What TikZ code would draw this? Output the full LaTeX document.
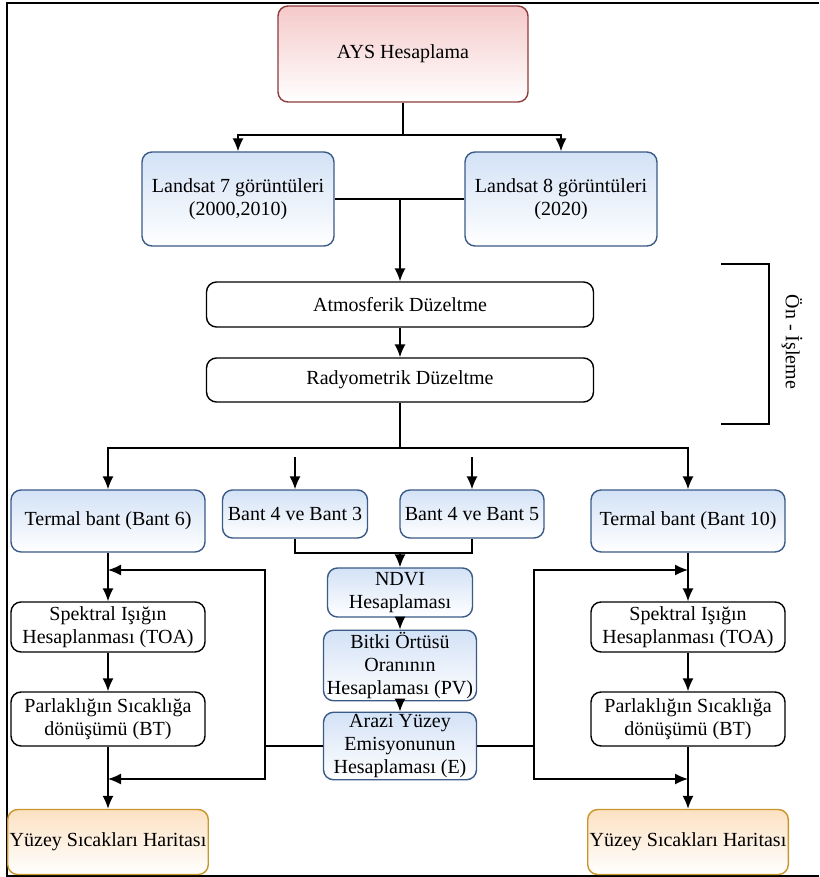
\documentclass[tikz,border=0pt]{standalone}
\usepackage{fontspec}
\setmainfont{Liberation Serif}
\usepackage{tikz}
\usetikzlibrary{arrows,arrows.meta,positioning}
\definecolor{pinktop}{HTML}{F5C9C9}
\definecolor{pinkline}{HTML}{8E3B3B}
\definecolor{bluetop}{HTML}{D3E2F6}
\definecolor{blueline}{HTML}{3A5A88}
\definecolor{orangetop}{HTML}{FCE1C2}
\definecolor{orangeline}{HTML}{C8962A}

\begin{document}
\begin{tikzpicture}[x=0.5pt,y=-0.5pt,
  every node/.style={font=\rmfamily\fontsize{10}{11.5}\selectfont, align=center, inner sep=1pt},
  box/.style={draw, rounded corners=5pt, line width=0.7pt},
  pinkbox/.style={box, draw=pinkline, top color=pinktop, bottom color=white},
  bluebox/.style={box, draw=blueline, top color=bluetop, bottom color=white},
  orangebox/.style={box, draw=orangeline, top color=orangetop, bottom color=white},
  whitebox/.style={box, fill=white},
  arr/.style={-{Latex[length=6.5pt,width=5.5pt]}, line width=0.7pt},
  line/.style={line width=0.7pt}]
\useasboundingbox (0,0) rectangle (819,877);
\draw[line] (819,3) -- (7,3) -- (7,876) -- (819,876);

\node[pinkbox, minimum width=125pt, minimum height=48pt] (ays) at (403,54) {AYS Hesaplama};
\node[bluebox, minimum width=96pt, minimum height=47pt] (l_7) at (238,199) {Landsat 7 görüntüleri\\(2000,2010)};
\node[bluebox, minimum width=96pt, minimum height=47pt] (l_8) at (561,199) {Landsat 8 görüntüleri\\(2020)};
\node[whitebox, minimum width=193.5pt, minimum height=22.5pt] (atm) at (400,304.5) {Atmosferik Düzeltme};
\node[whitebox, minimum width=193.5pt, minimum height=22pt] (rad) at (400,380) {Radyometrik Düzeltme};

\node[bluebox, minimum width=97pt, minimum height=31pt] (t_left) at (108,521) {Termal bant (Bant 6)};
\node[bluebox, minimum width=72.5pt, minimum height=24pt] (b_43) at (295,514) {Bant 4 ve Bant 3};
\node[bluebox, minimum width=72pt, minimum height=24pt] (b_45) at (472,514) {Bant 4 ve Bant 5};
\node[bluebox, minimum width=97pt, minimum height=31pt] (t_right) at (688,521) {Termal bant (Bant 10)};

\node[bluebox, minimum width=72.5pt, minimum height=24.5pt] (ndvi) at (400,592.5) {NDVI\\Hesaplaması};
\node[bluebox, minimum width=76.5pt, minimum height=31.5pt] (pv) at (400,665.5) {Bitki Örtüsü\\Oranının\\Hesaplaması (PV)};
\node[bluebox, minimum width=76.5pt, minimum height=32pt] (emis) at (400,746) {Arazi Yüzey\\Emisyonunun\\Hesaplaması (E)};

\node[whitebox, minimum width=97pt, minimum height=25pt] (toa_left) at (108,627) {Spektral Işığın\\Hesaplanması (TOA)};
\node[whitebox, minimum width=97pt, minimum height=27pt] (bt_left) at (108,719) {Parlaklığın Sıcaklığa\\dönüşümü (BT)};
\node[orangebox, minimum width=97pt, minimum height=32.5pt] (map_left) at (108,842) {Yüzey Sıcakları Haritası};
\node[whitebox, minimum width=97pt, minimum height=25pt] (toa_right) at (688,627) {Spektral Işığın\\Hesaplanması (TOA)};
\node[whitebox, minimum width=97pt, minimum height=27pt] (bt_right) at (688,719) {Parlaklığın Sıcaklığa\\dönüşümü (BT)};
\node[orangebox, minimum width=97pt, minimum height=32.5pt] (map_right) at (688,842) {Yüzey Sıcakları Haritası};

\coordinate (j_top) at (403,135);
\coordinate (j_land) at (400,199);
\coordinate (j_rad) at (400,448);
\coordinate (f_43) at (295,457);
\coordinate (f_45) at (472,457);
\coordinate (j_band) at (400,553);
\coordinate (k_left) at (265,746);
\coordinate (k_right) at (534,746);
\coordinate (m_left1) at (108,570);
\coordinate (m_left2) at (108,779);
\coordinate (m_right1) at (688,570);
\coordinate (m_right2) at (688,779);

\draw[line] (ays.south) -- (j_top);
\draw[arr] (j_top) -| (l_7.north);
\draw[arr] (j_top) -| (l_8.north);
\draw[line] (l_7.east) -- (l_8.west);
\draw[arr] (j_land) -- (atm.north);
\draw[arr] (atm.south) -- (rad.north);
\draw[line] (rad.south) -- (j_rad);
\draw[arr] (j_rad) -| (t_left.north);
\draw[arr] (j_rad) -| (t_right.north);
\draw[arr] (f_43) -- (b_43.north);
\draw[arr] (f_45) -- (b_45.north);
\draw[line] (b_43.south) |- (j_band);
\draw[line] (b_45.south) |- (j_band);
\draw[arr] (j_band) -- (ndvi.north);
\draw[arr] (ndvi.south) -- (pv.north);
\draw[arr] (pv.south) -- (emis.north);

\draw[arr] (t_left.south) -- (toa_left.north);
\draw[arr] (toa_left.south) -- (bt_left.north);
\draw[arr] (bt_left.south) -- (map_left.north);
\draw[arr] (t_right.south) -- (toa_right.north);
\draw[arr] (toa_right.south) -- (bt_right.north);
\draw[arr] (bt_right.south) -- (map_right.north);

\draw[line] (emis.west) -- (k_left);
\draw[arr] (k_left) |- (m_left1);
\draw[arr] (k_left) |- (m_left2);
\draw[line] (emis.east) -- (k_right);
\draw[arr] (k_right) |- (m_right1);
\draw[arr] (k_right) |- (m_right2);

\draw[line] (721,264) -- (769,264) -- (769,424) -- (721,424);
\node[rotate=-90] (pre) at (792,342) {Ön - İşleme};
\end{tikzpicture}
\end{document}
